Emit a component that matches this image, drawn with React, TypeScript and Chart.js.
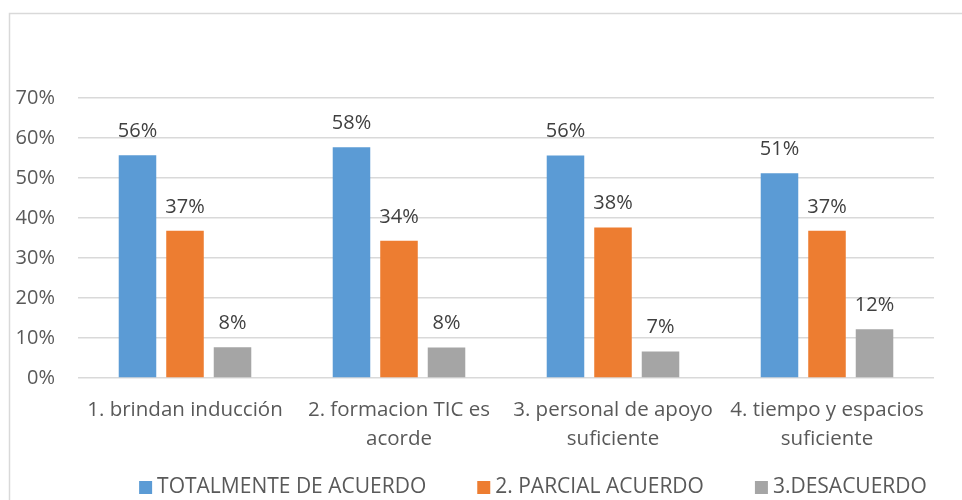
import React, { useEffect, useRef } from "react";
import { Chart, registerables } from "chart.js";

Chart.register(...registerables);

const categories: string[][] = [
  ["1. brindan inducción"],
  ["2. formacion TIC es", "acorde"],
  ["3. personal de apoyo", "suficiente"],
  ["4. tiempo y espacios", "suficiente"],
];
const seriesNames = ["TOTALMENTE DE ACUERDO", "2. PARCIAL ACUERDO", "3.DESACUERDO"];
const totalmente = [55.7, 57.7, 55.6, 51.2];
const parcial = [36.8, 34.3, 37.6, 36.8];
const desacuerdo = [7.7, 7.6, 6.6, 12.2];
const yTicks = [0, 10, 20, 30, 40, 50, 60, 70];

const colors = ["#5B9BD5", "#ED7D31", "#A5A5A5"];
const FONT = "'Open Sans'";
const FS = 20;
const XFS = 20.5;
const LFS = 21;

const bgPlugin = {
  id: "frame",
  beforeDraw(chart: any) {
    const ctx = chart.ctx;
    ctx.save();
    ctx.fillStyle = "#ffffff";
    ctx.fillRect(0, 0, chart.width, chart.height);
    ctx.strokeStyle = "#d9d9d9";
    ctx.lineWidth = 1.5;
    ctx.strokeRect(9.5, 13.5, 2000, 2000);
    ctx.restore();
  },
};

const labelPlugin = {
  id: "barLabels",
  afterDatasetsDraw(chart: any) {
    const ctx = chart.ctx;
    ctx.save();
    ctx.font = `${FS}px ${FONT}`;
    ctx.fillStyle = "#404040";
    ctx.textAlign = "center";
    ctx.textBaseline = "middle";
    chart.data.datasets.forEach((ds: any, i: number) => {
      const meta = chart.getDatasetMeta(i);
      meta.data.forEach((bar: any, j: number) => {
        ctx.fillText(Math.round(ds.data[j]) + "%", bar.x, bar.y - 24);
      });
    });
    ctx.restore();
  },
};

const legendPlugin = {
  id: "customLegend",
  afterDraw(chart: any) {
    const ctx = chart.ctx;
    ctx.save();
    ctx.font = `${LFS}px ${FONT}`;
    ctx.textBaseline = "middle";
    ctx.textAlign = "left";
    const box = 13;
    const gapBox = 5;
    const gapItem = 51;
    const items = chart.data.datasets.map((ds: any) => ({
      text: ds.label,
      color: ds.backgroundColor,
      w: box + gapBox + ctx.measureText(ds.label).width,
    }));
    const total = items.reduce((s: number, it: any) => s + it.w, 0) + gapItem * (items.length - 1);
    let x = 533 - total / 2;
    const cy = 487.5;
    items.forEach((it: any) => {
      ctx.fillStyle = it.color;
      ctx.fillRect(x, cy - box / 2, box, box);
      ctx.fillStyle = "#595959";
      ctx.fillText(it.text, x + box + gapBox, cy);
      x += it.w + gapItem;
    });
    ctx.restore();
  },
};

export default function App() {
  const ref = useRef<HTMLCanvasElement>(null);
  useEffect(() => {
    if (!ref.current) return;
    const chart = new Chart(ref.current, {
      type: "bar",
      data: {
        labels: categories,
        datasets: [totalmente, parcial, desacuerdo].map((d, i) => ({
          label: seriesNames[i],
          data: d,
          backgroundColor: colors[i],
          borderWidth: 0,
          categoryPercentage: 0.666,
          barPercentage: 0.79,
        })),
      },
      options: {
        animation: false,
        responsive: false,
        maintainAspectRatio: false,
        layout: { padding: { left: 0, right: 28, top: 98, bottom: 0 } },
        plugins: {
          legend: { display: false },
          tooltip: { enabled: false },
          title: { display: false },
        },
        scales: {
          x: {
            grid: { display: false, drawTicks: false },
            border: { display: false },
            ticks: {
              color: "#595959",
              font: { family: FONT, size: XFS, lineHeight: 29 / XFS },
              padding: 18,
              maxRotation: 0,
              autoSkip: false,
            },
            afterFit: (s: any) => {
              s.height = 122;
            },
          },
          y: {
            min: 0,
            max: 70,
            afterBuildTicks: (s: any) => {
              s.ticks = yTicks.map((v) => ({ value: v }));
            },
            grid: { color: "#d9d9d9", lineWidth: 1.5, drawTicks: false },
            border: { display: false },
            ticks: {
              color: "#595959",
              font: { family: FONT, size: FS },
              padding: 23,
              callback: (v: any) => v + "%",
            },
            afterFit: (s: any) => {
              s.width = 78;
            },
          },
        },
      },
      plugins: [bgPlugin, labelPlugin, legendPlugin],
    });
    return () => chart.destroy();
  }, []);
  return (
    <div style={{ position: "fixed", left: 0, top: 0, width: 962, height: 500, overflow: "hidden", background: "#fff" }}>
      <canvas ref={ref} width={962} height={500} style={{ width: 962, height: 500, display: "block" }} />
    </div>
  );
}
